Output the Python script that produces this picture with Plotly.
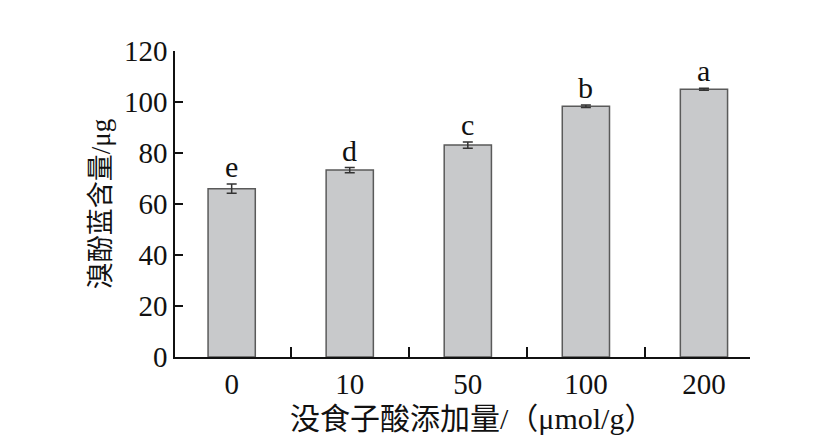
import plotly.graph_objects as go

categories = ["0", "10", "50", "100", "200"]
values = [66.0, 73.3, 83.1, 98.3, 105.0]
errors = [1.8, 1.0, 1.2, 0.5, 0.4]
letters = ["e", "d", "c", "b", "a"]
y_ticks = [0, 20, 40, 60, 80, 100, 120]
x_title = "没食子酸添加量/（μmol/g）"
y_title = "溴酚蓝含量/μg"

FONT = "Liberation Serif, 'Times New Roman', 'Noto Sans CJK SC', serif"

fig = go.Figure()
fig.add_trace(go.Bar(
    x=categories, y=values, width=0.4,
    marker=dict(color="#c8c9cb", line=dict(color="#5a5a5a", width=1.5)),
    error_y=dict(type="data", array=errors, visible=True, color="#333333", thickness=1.5, width=5),
    showlegend=False,
))

for i, (v, e, t) in enumerate(zip(values, errors, letters)):
    fig.add_annotation(x=i, y=v + e, text=t, showarrow=False, yanchor="bottom", yshift=-1,
                       font=dict(family=FONT, size=30, color="#111111"))

fig.add_annotation(x=0.517, y=-0.14, xref="paper", yref="paper", text=x_title,
                   showarrow=False, xanchor="center", yanchor="top",
                   font=dict(family=FONT, size=30, color="#111111"))

fig.update_layout(
    width=808, height=436,
    margin=dict(l=167, r=66, t=43, b=87),
    plot_bgcolor="white", paper_bgcolor="white",
    font=dict(family=FONT, size=28, color="#111111"),
)
fig.update_xaxes(
    type="category", range=[-0.48, 4.39],
    showline=True, linecolor="#111111", linewidth=1.5,
    ticks="inside", tickson="boundaries", ticklen=10, tickcolor="#111111", tickwidth=1.5,
    tickfont=dict(family=FONT, size=29),
    showgrid=False, zeroline=False,
)
fig.update_yaxes(
    range=[0, 120], tickvals=y_ticks,
    showline=True, linecolor="#111111", linewidth=1.5,
    ticks="inside", ticklen=8, tickcolor="#111111", tickwidth=1.5,
    tickfont=dict(family=FONT, size=29),
    title=dict(text=y_title, font=dict(family=FONT, size=27), standoff=6),
    showgrid=False, zeroline=False,
)

fig.write_html("out.html")
